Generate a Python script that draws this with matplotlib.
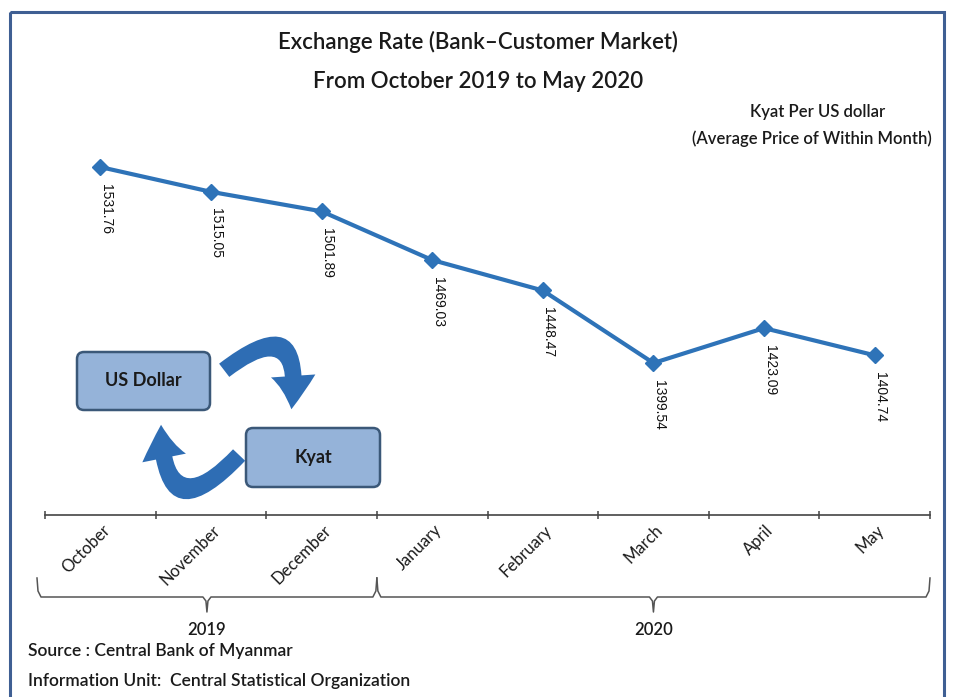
import numpy as np
import matplotlib.pyplot as plt
from matplotlib.patches import FancyBboxPatch, FancyArrowPatch, Rectangle

# chart data
months = ['October', 'November', 'December', 'January', 'February', 'March', 'April', 'May']
rates = [1531.76, 1515.05, 1501.89, 1469.03, 1448.47, 1399.54, 1423.09, 1404.74]
years = ['2019', '2020']
year_spans = [(0, 2), (3, 7)]   # first and last month index of each year

font = 'Lato'
ink = '#1a1a1a'
line_blue = '#2e73b8'
W, H = 963, 697

fig = plt.figure(figsize=(W / 100, H / 100), dpi=100)
fig.patch.set_facecolor('white')

# overlay in pixel coordinates for frame, icons and notes
deco = fig.add_axes([0, 0, 1, 1], zorder=0)
deco.set_xlim(0, W)
deco.set_ylim(H, 0)
deco.axis('off')

deco.add_patch(Rectangle((10, 12), 934, 700, fill=False, edgecolor='#3f5f93', linewidth=2.2))

deco.text(478, 42, 'Exchange Rate (Bank\u2013Customer Market)', ha='center', va='center',
          fontsize=16, family=font, weight='semibold', color=ink)
deco.text(478, 82, 'From October 2019 to May 2020', ha='center', va='center',
          fontsize=16, family=font, weight='semibold', color=ink)
deco.text(818, 112, 'Kyat Per US dollar', ha='center', va='center',
          fontsize=12, family=font, weight='semibold', color=ink)
deco.text(812, 139, '(Average Price of Within Month)', ha='center', va='center',
          fontsize=12, family=font, weight='semibold', color=ink)

deco.text(28, 651, 'Source : Central Bank of Myanmar', ha='left', va='center',
          fontsize=12.5, family=font, weight='semibold', color=ink)
deco.text(28, 681, 'Information Unit:  Central Statistical Organization', ha='left', va='center',
          fontsize=12.5, family=font, weight='semibold', color=ink)

# currency icon
box_fill = '#95b3d9'
box_edge = '#3b5878'
deco.add_patch(FancyBboxPatch((77, 352), 133, 58, boxstyle='round,pad=0,rounding_size=7',
                              facecolor=box_fill, edgecolor=box_edge, linewidth=1.8))
deco.add_patch(FancyBboxPatch((246, 428), 134, 59, boxstyle='round,pad=0,rounding_size=7',
                              facecolor=box_fill, edgecolor=box_edge, linewidth=1.8))
deco.text(143, 380, 'US Dollar', ha='center', va='center', fontsize=13,
          family=font, weight='bold', color=ink)
deco.text(313, 457, 'Kyat', ha='center', va='center', fontsize=13,
          family=font, weight='bold', color=ink)
arrow_style = 'simple,tail_width=0.6,head_width=1.6,head_length=1.2'
deco.add_patch(FancyArrowPatch((222, 372), (291, 412), connectionstyle='arc3,rad=-1.25',
                               arrowstyle=arrow_style, mutation_scale=20,
                               color='#2e6db4', linewidth=0))
deco.add_patch(FancyArrowPatch((241, 453), (161, 422), connectionstyle='arc3,rad=-1.25',
                               arrowstyle=arrow_style, mutation_scale=20,
                               color='#2e6db4', linewidth=0))

# main line chart
ax = fig.add_axes([45 / W, 1 - 515 / H, 885 / W, 415 / H], zorder=1)
ax.patch.set_alpha(0)
x = np.arange(len(months))
ax.plot(x, rates, color=line_blue, linewidth=3, marker='D', markersize=8,
        markerfacecolor=line_blue, markeredgecolor=line_blue)
ax.set_xlim(-0.5, len(months) - 0.5)
ax.set_ylim(1297.0, 1577.0)

for xi, v in zip(x, rates):
    ax.annotate(f'{v:.2f}', (xi, v), xytext=(4, -12), textcoords='offset points',
                rotation=-90, ha='center', va='top', fontsize=10,
                family='Liberation Sans', color='#111111')

for s in ['top', 'right', 'left']:
    ax.spines[s].set_visible(False)
ax.spines['bottom'].set_color('#444444')
ax.spines['bottom'].set_linewidth(1.2)
ax.set_yticks([])
ax.set_xticks([])
ax.set_xticks(np.arange(-0.5, len(months)), minor=True)
ax.tick_params(axis='x', which='minor', length=6, width=1.1, color='#444444', direction='inout')

xt = ax.get_xaxis_transform()
for xi, m in zip(x, months):
    ax.annotate(m, (xi, 0), xytext=(5, -9), xycoords=xt, textcoords='offset points',
                rotation=45, rotation_mode='anchor', ha='right', va='center',
                fontsize=12, family=font, color=ink, annotation_clip=False)

# year braces below month labels
end_y, base_y, tip_y = 578, 597, 612
for (a, b), yr in zip(year_spans, years):
    left = ax.transData.transform((a - 0.5, 0))[0] - (8 if a == 0 else 0)
    right = ax.transData.transform((b + 0.5, 0))[0]
    mid = (left + right) / 2
    bx = [left, left + 1, left + 4, mid - 4, mid - 1, mid, mid + 1, mid + 4,
          right - 4, right - 1, right]
    by = [end_y, base_y - 6, base_y, base_y, base_y + 4, tip_y, base_y + 4, base_y,
          base_y, base_y - 6, end_y]
    deco.plot(bx, by, color='#555555', linewidth=1.1)
    deco.text(mid, 630, yr, ha='center', va='center',
              fontsize=12, family=font, weight='semibold', color=ink)

fig.savefig('out.png', dpi=100)
